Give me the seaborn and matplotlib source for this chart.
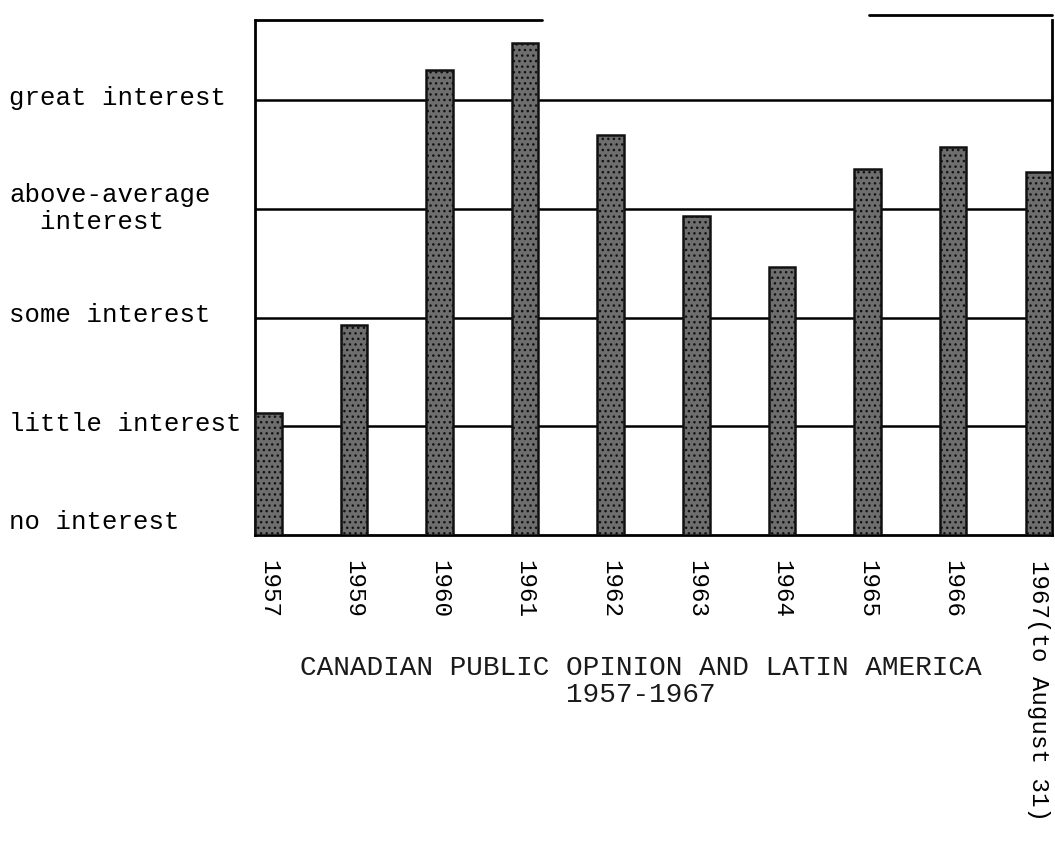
import matplotlib
matplotlib.use("Agg")
import matplotlib.pyplot as plt
import matplotlib.transforms as mtransforms
import seaborn as sns

# years shown under the bars (last one is a partial year)
years = ["1957", "1959", "1960", "1961", "1962", "1963", "1964", "1965", "1966",
         "1967(to August 31)"]
# interest level: 0 = no interest ... 4 = great interest
interest = [1.12, 1.93, 4.28, 4.53, 3.68, 2.94, 2.47, 3.37, 3.57, 3.34]

level_names = ["no interest", "little interest", "some interest",
               "above-average\n  interest", "great interest"]
levels = [0, 1, 2, 3, 4]

sns.set_style("white")
plt.rcParams["font.family"] = ["Liberation Mono", "DejaVu Sans Mono"]
plt.rcParams["text.color"] = "black"
plt.rcParams["xtick.color"] = "black"
plt.rcParams["ytick.color"] = "black"

fig = plt.figure(figsize=(10.55, 8.52), dpi=100)
ax = fig.add_axes([0.2417, 0.3721, 0.7555, 0.6044])

bar_w = 0.31
sns.barplot(x=years, y=interest, width=bar_w, color="#6e6e6e",
            edgecolor="#111111", linewidth=1.8, hatch="...", ax=ax,
            zorder=3)

# horizontal lines at each interest level
for lv in levels[1:]:
    ax.axhline(lv, color="black", lw=1.8, zorder=1)

ax.set_xlim(-bar_w / 2, len(years) - 1 + bar_w / 2)
ax.set_ylim(0, 4.74)

ax.set_yticks(levels)
ax.set_yticklabels(level_names, fontsize=18.5, ha="left")
ax.tick_params(axis="y", length=0, pad=177)
ax.tick_params(axis="x", length=0, pad=18, labelsize=17.4)
for lab in ax.get_xticklabels():
    lab.set_rotation(270)
# typed labels sit a little above their lines
for i, lab in enumerate(ax.get_yticklabels()):
    up = 15 if i == 0 else 5
    lab.set_transform(lab.get_transform() +
                      mtransforms.ScaledTranslation(0, up / 100, fig.dpi_scale_trans))
ax.set_xlabel("")
ax.set_ylabel("")

# the box: top edge is only partly drawn in the original
ax.spines["top"].set_visible(False)
for s in ["left", "right", "bottom"]:
    ax.spines[s].set_linewidth(2)
    ax.spines[s].set_color("black")
ax.plot([0, 0.36], [1, 1], transform=ax.transAxes, color="black", lw=2,
        clip_on=False)
ax.plot([0.77, 1], [1.01, 1.01], transform=ax.transAxes, color="black",
        lw=2, clip_on=False)

fig.text(0.6076, 0.2, "CANADIAN PUBLIC OPINION AND LATIN AMERICA\n1957-1967",
         ha="center", va="center", fontsize=20, linespacing=1.05,
         color="#1a1a1a")

fig.savefig("out.png", dpi=100)
